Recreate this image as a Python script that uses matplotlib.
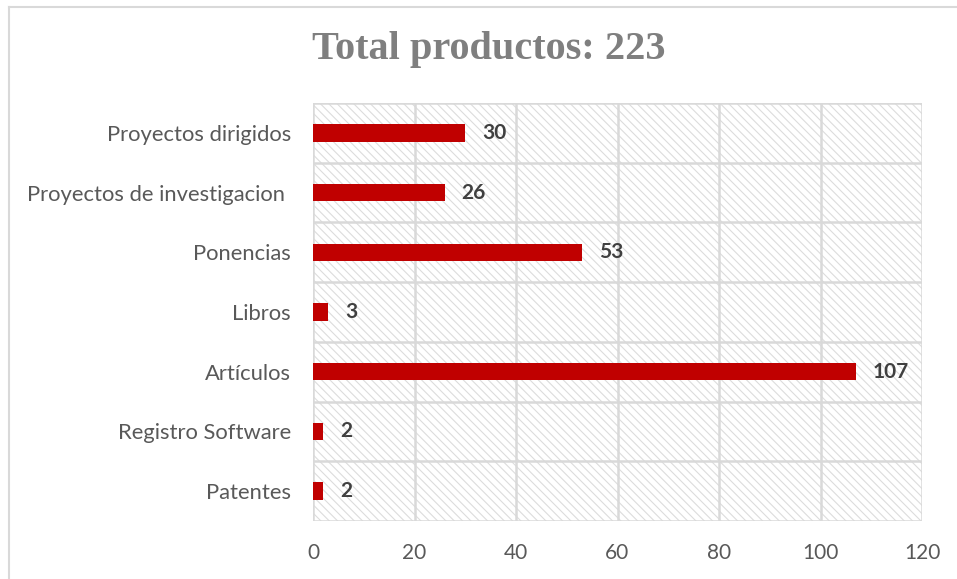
import matplotlib
matplotlib.use("Agg")
import matplotlib.pyplot as plt
import numpy as np
from matplotlib.lines import Line2D

categories = ["Patentes", "Registro Software", "Artículos", "Libros", "Ponencias",
              "Proyectos de investigacion ", "Proyectos dirigidos"]
values = [2, 2, 107, 3, 53, 26, 30]
x_ticks = [0, 20, 40, 60, 80, 100, 120]
title = "Total productos: 223"

plt.rcParams['hatch.color'] = '#DCDCDC'
plt.rcParams['hatch.linewidth'] = 0.8

fig = plt.figure(figsize=(9.57, 5.79), dpi=100)
ax = fig.add_axes([313/957, 1-521/579, (922-313)/957, (521-103)/579])

ax.set_xlim(0, 120)
ax.set_ylim(-0.5, len(categories)-0.5)

# hatched background
ax.add_patch(plt.Rectangle((0, -0.5), 120, len(categories), facecolor='white',
                           edgecolor='#DCDCDC', hatch='\\'*4, linewidth=0, zorder=0))

y = np.arange(len(categories))
ax.barh(y, values, height=0.29, color='#C00000', zorder=3)

for yi, v in zip(y, values):
    ax.annotate(str(v), (v, yi), xytext=(12, 0), textcoords='offset points',
                va='center', ha='left', fontsize=15, fontweight='bold',
                color='#404040', family='Lato')

ax.set_xticks(x_ticks)
ax.set_xticklabels([str(t) for t in x_ticks], fontsize=15, color='#595959', family='Lato')
ax.set_yticks(y)
ax.set_yticklabels(categories, fontsize=15.8, color='#595959', family='Lato')
ax.set_yticks(np.arange(-0.5, len(categories), 1), minor=True)
ax.tick_params(axis='both', which='both', length=0)
ax.tick_params(axis='x', pad=16)
ax.tick_params(axis='y', pad=16)

ax.grid(False)
ax.xaxis.grid(True, which='major', color='#D9D9D9', linewidth=1.8, zorder=1)
ax.yaxis.grid(True, which='minor', color='#D9D9D9', linewidth=1.8, zorder=1)
ax.set_axisbelow(False)
for s in ax.spines.values():
    s.set_visible(False)

fig.text(489/957, 1-50/579, title, ha='center', va='center', fontsize=29,
         fontweight='bold', color='#7F7F7F', family='Liberation Serif')

# outer chart border (top and left visible)
fig.add_artist(Line2D([9/957, 9/957], [0, 1-7/579], transform=fig.transFigure,
                      color='#D9D9D9', linewidth=1.5))
fig.add_artist(Line2D([9/957, 1], [1-7/579, 1-7/579], transform=fig.transFigure,
                      color='#D9D9D9', linewidth=1.5))

fig.savefig("out.png", dpi=100)
